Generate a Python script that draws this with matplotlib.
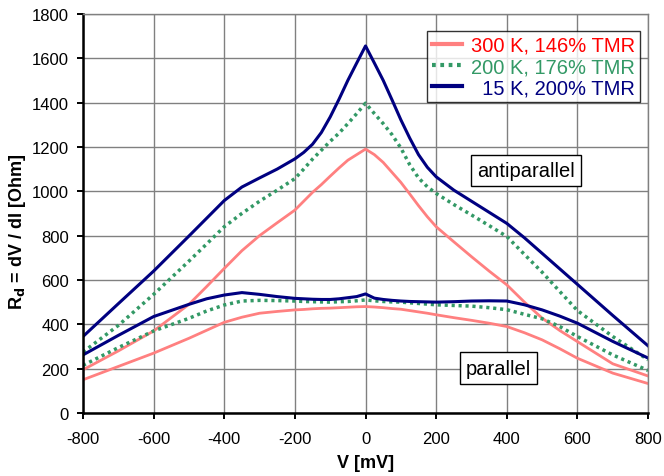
import numpy as np
import matplotlib.pyplot as plt

plt.rcParams['font.family'] = ['Liberation Sans', 'DejaVu Sans']
plt.rcParams['axes.unicode_minus'] = False

# bias voltage grid (mV)
v = [-800, -700, -600, -500, -450, -400, -350, -300, -250, -200, -175, -150, -125, -100, -75, -50, -25, 0,
     25, 50, 75, 100, 125, 150, 175, 200, 250, 300, 350, 400, 450, 500, 550, 600, 700, 800]

# antiparallel state
ap_300 = [195, 280, 370, 490, 570, 652, 732, 800, 858, 915, 955, 995, 1030, 1068, 1105, 1140, 1165, 1190,
          1165, 1130, 1085, 1040, 988, 935, 885, 840, 772, 705, 640, 578, 500, 428, 372, 322, 222, 167]
ap_200 = [275, 395, 535, 685, 762, 840, 900, 955, 1005, 1057, 1100, 1145, 1185, 1225, 1262, 1305, 1350, 1397,
          1350, 1305, 1255, 1195, 1120, 1060, 1020, 990, 940, 893, 845, 796, 715, 635, 548, 462, 345, 240]
ap_15 = [345, 493, 640, 798, 878, 958, 1019, 1060, 1100, 1146, 1175, 1212, 1265, 1335, 1415, 1500, 1578, 1655,
         1578, 1500, 1412, 1322, 1240, 1165, 1108, 1065, 1005, 955, 905, 855, 790, 720, 650, 580, 440, 303]

# parallel state
p_300 = [150, 210, 270, 337, 373, 409, 432, 450, 458, 465, 467, 470, 472, 473, 475, 477, 479, 480,
         478, 475, 471, 468, 462, 456, 450, 443, 430, 418, 405, 390, 362, 330, 290, 247, 180, 133]
p_200 = [215, 295, 370, 427, 460, 487, 505, 508, 507, 505, 503, 502, 501, 500, 502, 503, 506, 510,
         506, 503, 501, 500, 497, 494, 491, 488, 485, 482, 475, 466, 445, 425, 390, 345, 262, 192]
p_15 = [262, 350, 435, 490, 515, 532, 543, 535, 525, 517, 515, 513, 512, 512, 515, 520, 525, 537,
        518, 512, 508, 505, 503, 502, 501, 500, 502, 505, 506, 505, 488, 465, 437, 405, 323, 248]

labels = ["300 K, 146% TMR", "200 K, 176% TMR", "  15 K, 200% TMR"]
text_colors = ["#FF0000", "#339966", "#000080"]

pink = "#FF8080"
green = "#339966"
navy = "#000080"
dots = (0, (0.9, 1.1))

fig = plt.figure(figsize=(6.64, 4.77), dpi=100)
ax = fig.add_axes([0.125, 0.132, 0.851, 0.837])

ax.plot(v, ap_300, color=pink, lw=2.0, label=labels[0])
ax.plot(v, ap_200, color=green, lw=2.5, ls=dots, label=labels[1])
ax.plot(v, ap_15, color=navy, lw=2.2, label=labels[2])
ax.plot(v, p_300, color=pink, lw=2.0)
ax.plot(v, p_200, color=green, lw=2.5, ls=dots)
ax.plot(v, p_15, color=navy, lw=2.2)

ax.set_xlim(-800, 800)
ax.set_ylim(0, 1800)
ax.set_xticks(np.arange(-800, 801, 200))
ax.set_yticks(np.arange(0, 1801, 200))
ax.grid(True, color="#808080", lw=1.0)
ax.set_axisbelow(True)
ax.tick_params(direction="out", length=4, width=1.4, labelsize=12)
ax.tick_params(axis="x", pad=9)
ax.tick_params(axis="y", pad=6)
for s in ["left", "bottom"]:
    ax.spines[s].set_linewidth(1.8)
for s in ["top", "right"]:
    ax.spines[s].set_color("#808080")
    ax.spines[s].set_linewidth(1.0)

ax.set_xlabel("V [mV]", fontsize=13, fontweight="bold", labelpad=6)
ax.set_ylabel(r"R$_\mathbf{d}$ = dV / dI [Ohm]", fontsize=13, fontweight="bold")
ax.yaxis.set_label_coords(-0.097, 0.455)

leg = ax.legend(loc="upper right", bbox_to_anchor=(0.986, 0.957), fontsize=14.5,
                frameon=True, fancybox=False, edgecolor="black", handlelength=1.5,
                handletextpad=0.45, borderpad=0.25, labelspacing=0.1, borderaxespad=0)
leg.get_frame().set_linewidth(1.0)
for line in leg.get_lines():
    line.set_linewidth(3.0)
for t, c in zip(leg.get_texts(), text_colors):
    t.set_color(c)

box = dict(boxstyle="square,pad=0.3", fc="white", ec="black", lw=1.0)
ax.text(455, 1093, "antiparallel", fontsize=14.5, ha="center", va="center", bbox=box)
ax.text(377, 203, "parallel", fontsize=14.5, ha="center", va="center", bbox=box)

fig.savefig("out.png", dpi=100)
